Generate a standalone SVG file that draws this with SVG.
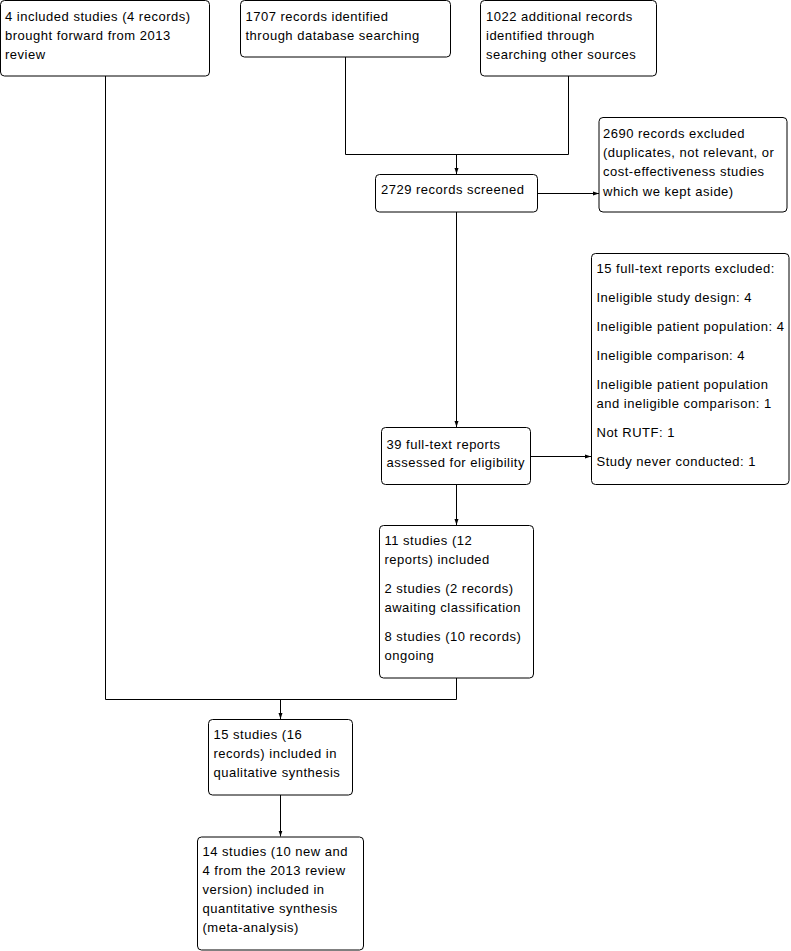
<svg xmlns="http://www.w3.org/2000/svg" width="791" height="951" viewBox="0 0 791 951">
<style>
.box{fill:#fff;stroke:#000;stroke-width:1}
text{font-family:"Liberation Sans",Arial,sans-serif;font-size:13px;letter-spacing:0.5px;fill:#000}
.c{fill:none;stroke:#000;stroke-width:1}
</style>
<defs>
<marker id="ah" markerUnits="userSpaceOnUse" markerWidth="8" markerHeight="8" viewBox="0 0 8 8" refX="6" refY="4" orient="auto">
<path d="M0,2 L6,4 L0,6 Z" fill="#000"/>
</marker>
</defs>
<rect width="791" height="951" fill="#fff"/>
<g id="connectors">
<path class="c" d="M105.5,76 V699.5 H456.5 V678"/>
<path class="c" d="M280.5,699.5 V719" marker-end="url(#ah)"/>
<path class="c" d="M345.5,57 V154.5 H568.5 V76"/>
<path class="c" d="M456.5,154.5 V174" marker-end="url(#ah)"/>
<path class="c" d="M537,193.5 H599" marker-end="url(#ah)"/>
<path class="c" d="M456.5,212 V427" marker-end="url(#ah)"/>
<path class="c" d="M531,456.5 H591" marker-end="url(#ah)"/>
<path class="c" d="M456.5,484 V525" marker-end="url(#ah)"/>
<path class="c" d="M280.5,795 V836.5" marker-end="url(#ah)"/>
</g>
<g id="n1">
<rect class="box" x="0.5" y="0.5" width="209" height="75.5" rx="4"/>
<text x="5" y="20.5">4 included studies (4 records)</text>
<text x="5" y="39.5">brought forward from 2013</text>
<text x="5" y="58.5">review</text>
</g>
<g id="n2">
<rect class="box" x="240.5" y="0.5" width="210" height="56.5" rx="4"/>
<text x="245.5" y="20.5">1707 records identified</text>
<text x="245.5" y="39.5">through database searching</text>
</g>
<g id="n3">
<rect class="box" x="480.5" y="0.5" width="176" height="75.5" rx="4"/>
<text x="486" y="20.5">1022 additional records</text>
<text x="486" y="39.5">identified through</text>
<text x="486" y="58.5">searching other sources</text>
</g>
<g id="n4">
<rect class="box" x="375.5" y="174.5" width="162" height="37.5" rx="4"/>
<text x="381" y="193.5">2729 records screened</text>
</g>
<g id="n5">
<rect class="box" x="599" y="117.5" width="188" height="94.5" rx="4"/>
<text x="603" y="137.5">2690 records excluded</text>
<text x="603" y="157">(duplicates, not relevant, or</text>
<text x="603" y="176">cost-effectiveness studies</text>
<text x="603" y="195.5">which we kept aside)</text>
</g>
<g id="n6">
<rect class="box" x="381.5" y="427.5" width="149" height="57" rx="4"/>
<text x="386.5" y="448.8">39 full-text reports</text>
<text x="386.5" y="466.8">assessed for eligibility</text>
</g>
<g id="n7">
<rect class="box" x="591.5" y="253.5" width="197.5" height="231" rx="4"/>
<text x="596.5" y="273">15 full-text reports excluded:</text>
<text x="596.5" y="302">Ineligible study design: 4</text>
<text x="596.5" y="331">Ineligible patient population: 4</text>
<text x="596.5" y="360">Ineligible comparison: 4</text>
<text x="596.5" y="389">Ineligible patient population</text>
<text x="596.5" y="408">and ineligible comparison: 1</text>
<text x="596.5" y="437">Not RUTF: 1</text>
<text x="596.5" y="466">Study never conducted: 1</text>
</g>
<g id="n8">
<rect class="box" x="379.5" y="525.5" width="154" height="152.5" rx="4"/>
<text x="384.5" y="544.5">11 studies (12</text>
<text x="384.5" y="563.5">reports) included</text>
<text x="384.5" y="593">2 studies (2 records)</text>
<text x="384.5" y="611.5">awaiting classification</text>
<text x="384.5" y="640.5">8 studies (10 records)</text>
<text x="384.5" y="659.5">ongoing</text>
</g>
<g id="n9">
<rect class="box" x="208.5" y="719.5" width="144" height="75.5" rx="4"/>
<text x="213.5" y="739">15 studies (16</text>
<text x="213.5" y="758">records) included in</text>
<text x="213.5" y="777">qualitative synthesis</text>
</g>
<g id="n10">
<rect class="box" x="197.5" y="837" width="166" height="113" rx="4"/>
<text x="202.5" y="856">14 studies (10 new and</text>
<text x="202.5" y="875">4 from the 2013 review</text>
<text x="202.5" y="894">version) included in</text>
<text x="202.5" y="913">quantitative synthesis</text>
<text x="202.5" y="932">(meta-analysis)</text>
</g>
</svg>
